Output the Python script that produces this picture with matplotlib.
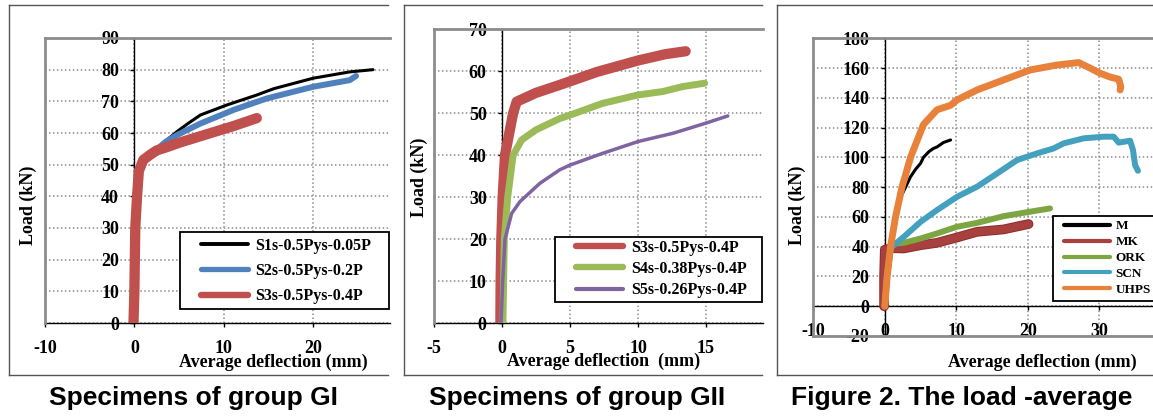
import matplotlib
matplotlib.use("Agg")
import matplotlib.pyplot as plt
import matplotlib.lines as mlines
import matplotlib.patches as mpatches
import matplotlib.patheffects as pe

# ── Data ──────────────────────────────────────────────────────────────────────

# Group GI
GI_S1_X = [-0.1, 0.0, 0.1, 0.3, 0.5, 1.0, 1.8, 2.5, 3.5, 4.8, 6.0, 7.4, 10.3, 13.7, 15.6, 20.0, 24.1, 26.7]
GI_S1_Y = [0, 10, 30, 40, 48, 51.5, 53.2, 54.8, 57.5, 60.5, 63, 65.7, 68.8, 72, 74, 77.3, 79.3, 80]
GI_S2_X = [-0.1, 0.0, 0.1, 0.3, 0.5, 1.0, 1.8, 2.5, 3.5, 4.8, 7.4, 11.1, 14.8, 20.0, 24.1, 24.8]
GI_S2_Y = [0, 10, 30, 40, 48, 51.5, 53.2, 54.8, 57.2, 59.4, 63, 67.3, 70.9, 74.6, 76.7, 78]
GI_S3_X = [-0.1, 0.0, 0.1, 0.3, 0.5, 1.0, 1.8, 2.5, 3.7, 5.1, 7.4, 11.1, 13.7]
GI_S3_Y = [0, 10, 30, 40, 48, 51.5, 53.2, 54.5, 55.6, 57, 59.0, 62.2, 64.7]
GI_LABELS = ["S1s-0.5Pys-0.05P", "S2s-0.5Pys-0.2P", "S3s-0.5Pys-0.4P"]

# Group GII
GII_S3_X = [-0.12, -0.1, -0.05, 0.05, 0.22, 0.82, 1.08, 2.5, 4.26, 7.0, 10.0, 12.0, 13.5]
GII_S3_Y = [0, 10, 20, 30, 40, 50, 52.7, 54.8, 56.7, 59.8, 62.5, 64.0, 64.7]
GII_S4_X = [0.07, 0.12, 0.17, 0.42, 0.82, 1.45, 2.5, 4.26, 5.0, 7.4, 10.0, 11.8, 13.3, 14.9]
GII_S4_Y = [0, 10, 20, 30, 40, 43.6, 46, 48.7, 49.5, 52.3, 54.3, 55.1, 56.3, 57.1]
GII_S5_X = [-0.07, 0.05, 0.22, 0.71, 1.32, 2.8, 4.26, 5.0, 7.4, 10.0, 12.6, 15.0, 16.6]
GII_S5_Y = [0, 10, 20, 26.1, 28.9, 33.3, 36.5, 37.6, 40.4, 43.2, 45.2, 47.6, 49.3]
GII_LABELS = ["S3s-0.5Pys-0.4P", "S4s-0.38Pys-0.4P", "S5s-0.26Pys-0.4P"]

# Figure 2 series
M_X = [0, 0.3, 0.8, 1.5, 2.0, 2.7, 3.6, 4.3, 5.0, 5.4, 6.2, 6.8, 7.3, 8.2, 9.2]
M_Y = [0, 20, 40, 60, 71, 78, 87, 92, 96, 100, 104, 106, 107, 110, 111.7]
MK_X = [-0.1, -0.1, 0.0, 1.0, 2.65, 5.0, 7.3, 10.1, 12.9, 16.6, 19.4, 20.1]
MK_Y = [0, 20, 38, 39, 38.8, 41, 42.6, 46.2, 50, 51.6, 54.5, 55.2]
ORK_X = [0, 0.3, 0.8, 1.0, 2.65, 5.0, 7.3, 10.1, 12.9, 16.6, 20.3, 23.1]
ORK_Y = [0, 20, 38, 42, 42.6, 45.5, 48.9, 53.4, 56, 60.5, 63.5, 65.7]
SCN_X = [0, 0.3, 0.8, 1.0, 2.65, 5.0, 7.3, 10.1, 12.9, 15.7, 18.5, 21.3, 23.6, 25.0,
         27.8, 30.6, 32.0, 32.7, 34.3, 34.7, 35.0, 35.4]
SCN_Y = [0, 20, 38, 40, 46.6, 56.7, 64.6, 73.5, 80.3, 89.2, 98.2, 102.7, 106, 109.4,
         112.8, 113.9, 113.9, 109.9, 111.2, 105, 94.8, 91]
UHPS_X = [0, 0.33, 0.8, 1.5, 2.4, 3.6, 4.0, 5.4, 7.3, 9.2, 10.1, 12.9, 16.6, 20.3,
          24.0, 27.1, 28.7, 30.1, 31.5, 32.7, 33.0, 32.9]
UHPS_Y = [0, 20, 40, 60, 80, 100, 105, 122, 132, 135, 138.6, 145.3, 152, 158.7,
          162, 163.7, 160, 156.5, 154, 152.5, 147.5, 145.3]
FIG2_LABELS = ["M", "MK", "ORK", "SCN", "UHPS"]

CAPTIONS = ["Specimens of group GI", "Specimens of group GII", "Figure 2. The load -average"]

# ── Style ─────────────────────────────────────────────────────────────────────

W, H = 1153, 416
GRAY = "#8c8c8c"
SERIF = ["Liberation Serif", "DejaVu Serif"]
plt.rcParams["font.family"] = SERIF
plt.rcParams["axes.unicode_minus"] = False


def px_rect(left, top, right, bottom):
    return [left / W, 1 - bottom / H, (right - left) / W, (bottom - top) / H]


def setup_axes(ax, xlim, ylim, xticks, yticks):
    # spines first: moving a spine resets the tick objects
    ax.spines["left"].set_position(("data", 0))
    ax.spines["bottom"].set_position(("data", 0))
    for s in ("left", "bottom"):
        ax.spines[s].set_color("black")
        ax.spines[s].set_linewidth(1.0)
    ax.spines["right"].set_visible(False)
    ax.spines["top"].set_color(GRAY)
    ax.spines["top"].set_linewidth(2.0)
    ax.set_xlim(*xlim)
    ax.set_ylim(*ylim)
    ax.set_xticks(xticks, [str(t) for t in xticks])
    ax.set_yticks(yticks, [str(t) for t in yticks])
    ax.tick_params(axis="y", direction="out", length=3, width=1, pad=8, labelsize=13)
    ax.tick_params(axis="x", direction="out", length=3, width=1, pad=9, labelsize=13)
    for lbl in ax.get_xticklabels() + ax.get_yticklabels():
        lbl.set_fontweight("bold")
    ax.axvline(xlim[0], color=GRAY, lw=2.0, clip_on=False, zorder=2.6)
    if ylim[0] < 0:
        ax.axhline(ylim[0], color=GRAY, lw=2.0, clip_on=False, zorder=2.6)
    ax.set_axisbelow(True)
    ax.grid(True, linestyle=(0, (1, 1.6)), color=GRAY, lw=1.1)
    ax.patch.set_alpha(0)


def add_legend(ax, handles, labels, box, anchor, fontsize, hlen, hpad, spacing):
    x0, y0, x1, y1 = box
    ax.add_patch(mpatches.Rectangle((x0, y0), x1 - x0, y1 - y0, transform=ax.transAxes,
                                    facecolor="white", edgecolor="black", lw=1.3,
                                    clip_on=False, zorder=4.5))
    ax.legend(handles, labels, loc="center left", bbox_to_anchor=anchor,
              frameon=False, borderpad=0, borderaxespad=0, handlelength=hlen,
              handletextpad=hpad, labelspacing=spacing,
              prop={"family": SERIF, "weight": "bold", "size": fontsize})


def leg_line(color, lw):
    return mlines.Line2D([0], [0], color=color, lw=lw, solid_capstyle="round")


def add_labels(ax, xlabel, xpos, ypos):
    ax.set_xlabel(xlabel, fontsize=13, fontweight="bold", va="center")
    ax.xaxis.set_label_coords(*xpos)
    ax.set_ylabel("Load (kN)", fontsize=13, fontweight="bold", va="center")
    ax.yaxis.set_label_coords(*ypos)


fig = plt.figure(figsize=(W / 100, H / 100), dpi=100)

# outer boxes around each panel
for left, right in [(9, 388), (404, 762), (777, 1160)]:
    for xs, ys in [([left, right], [5, 5]), ([left, right], [375, 375]), ([left, left], [5, 375])]:
        fig.add_artist(mlines.Line2D([x / W for x in xs], [1 - y / H for y in ys],
                                     color="#555555", lw=1.0))

# ── Panel 1: group GI ─────────────────────────────────────────────────────────
ax1 = fig.add_axes(px_rect(45, 38, 390, 323))
setup_axes(ax1, (-10, 28.6), (0, 90), [-10, 0, 10, 20], list(range(0, 91, 10)))
ax1.plot(GI_S1_X, GI_S1_Y, color="black", lw=2.2, zorder=3, solid_capstyle="round")
ax1.plot(GI_S2_X, GI_S2_Y, color="#4F81BD", lw=4.3, zorder=3, solid_capstyle="round")
ax1.plot(GI_S3_X, GI_S3_Y, color="#C0504D", lw=7.4, zorder=3, solid_capstyle="round")
add_legend(ax1, [leg_line("black", 2.8), leg_line("#4F81BD", 3.8), leg_line("#C0504D", 4.6)],
           GI_LABELS, (0.391, 0.049, 0.997, 0.319), (0.452, 0.1825), 11.5, 2.95, 0.45, 0.58)
add_labels(ax1, "Average deflection (mm)", (0.661, -0.137), (-0.049, 0.414))

# ── Panel 2: group GII ────────────────────────────────────────────────────────
ax2 = fig.add_axes(px_rect(434, 29, 763, 323))
setup_axes(ax2, (-5, 19.19), (0, 70), [-5, 0, 5, 10, 15], list(range(0, 71, 10)))
ax2.plot(GII_S3_X, GII_S3_Y, color="#C0504D", lw=7.4, zorder=3, solid_capstyle="round")
ax2.plot(GII_S4_X, GII_S4_Y, color="#9BBB59", lw=5.0, zorder=3, solid_capstyle="round")
ax2.plot(GII_S5_X, GII_S5_Y, color="#8064A2", lw=2.5, zorder=3, solid_capstyle="round")
add_legend(ax2, [leg_line("#C0504D", 4.6), leg_line("#9BBB59", 4.6), leg_line("#8064A2", 3.0)],
           GII_LABELS, (0.368, 0.0714, 0.998, 0.2925), (0.431, 0.1837), 11.5, 2.95, 0.5, 0.33)
add_labels(ax2, "Average deflection  (mm)", (0.514, -0.129), (-0.0456, 0.497))

# ── Panel 3: load-average deflection ─────────────────────────────────────────
ax3 = fig.add_axes(px_rect(813.3, 38.3, 1153, 336))
setup_axes(ax3, (-10, 37.5), (-20, 180), [-10, 0, 10, 20, 30], list(range(-20, 181, 20)))
fig2_colors = ["black", "#A8403E", "#7DA542", "#43A0BF", "#E8823A"]
ax3.plot(M_X, M_Y, color=fig2_colors[0], lw=2.2, zorder=3, solid_capstyle="round")
ax3.plot(MK_X, MK_Y, color=fig2_colors[1], lw=5.6, zorder=3, solid_capstyle="round",
         path_effects=[pe.Stroke(linewidth=7.0, foreground="#8A2E2C"), pe.Normal()])
ax3.plot(ORK_X, ORK_Y, color=fig2_colors[2], lw=4.3, zorder=3, solid_capstyle="round")
ax3.plot(SCN_X, SCN_Y, color=fig2_colors[3], lw=4.3, zorder=3, solid_capstyle="round")
ax3.plot(UHPS_X, UHPS_Y, color=fig2_colors[4], lw=5.0, zorder=3, solid_capstyle="round")
add_legend(ax3, [leg_line(c, 3.0) for c in fig2_colors], FIG2_LABELS,
           (0.7056, 0.1176, 1.1, 0.403), (0.737, 0.262), 9.5, 3.55, 0.4, 0.28)
add_labels(ax3, "Average deflection (mm)", (0.673, -0.0873), (-0.048, 0.44))

# ── Captions ──────────────────────────────────────────────────────────────────
for cx, text in zip([193, 577, 962], CAPTIONS):
    fig.text(cx / W, 1 - 398 / H, text, ha="center", va="center",
             family="Liberation Sans", weight="bold", fontsize=19)

fig.savefig("out.png", dpi=100)
